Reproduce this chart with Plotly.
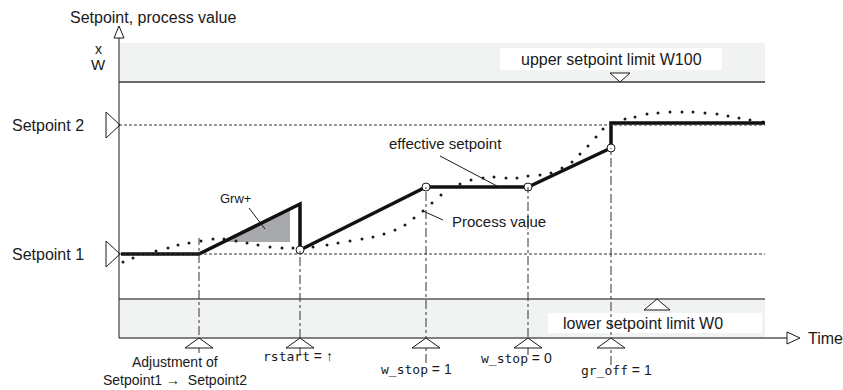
import plotly.graph_objects as go

# ---- diagram data (time units along x, value units along y) ----
SP1 = 136          # Setpoint 1 level
SP2 = 265          # Setpoint 2 level
W100 = 308         # upper setpoint limit
W100_TOP = 347
W0 = 91            # lower setpoint limit
BASE = 52          # time axis
T0, T_END = 119, 765

# effective setpoint path
eff_t = [121, 199, 300, 300, 426, 528, 611, 611, 765]
eff_v = [136, 136, 186, 140, 203, 203, 242, 267, 267]

# switching points on the effective setpoint
knot_t = [300, 426, 528, 611]
knot_v = [140, 203, 203, 242]

# process value samples
pv_t = [123, 133, 156, 168, 178, 189, 201, 213, 224, 236, 247, 258, 270, 282, 293,
        313, 327, 338, 350, 362, 373, 384, 395, 405, 414, 423, 432, 441, 460, 471,
        483, 494, 506, 517, 528, 540, 551, 562, 572, 580, 588, 596, 603, 625, 635,
        647, 658, 670, 682, 693, 705, 717, 728, 739, 750, 763]
pv_v = [128, 132, 139, 142, 145, 147, 149, 151, 151, 149, 147, 145, 143, 142, 142,
        143, 145, 147, 149, 151, 153, 156, 160, 165, 172, 179, 187, 195, 206, 210,
        212, 213, 212, 212, 214, 215, 217, 222, 228, 236, 244, 253, 261, 271, 273,
        276, 277, 278, 278, 278, 277, 276, 274, 272, 270, 268]

# control events along the time axis
ev_t = [199, 300, 426, 528, 611]
ev_top = [152, 140, 203, 203, 242]
ev_bottom = [37, 34, 27, 35, 25]

MONO = "DejaVu Sans Mono"
def mono(s):
    return f'<span style="font-family:{MONO};font-size:13px">{s}</span>'

ev_labels = [
    (175, 28, "Adjustment of"),
    (175, 10, "Setpoint1 \u2192  Setpoint2"),
    (298, 34, mono("rstart") + " = \u2191"),
    (416, 21, mono("w_stop") + " = 1"),
    (516, 32, mono("w_stop") + " = 0"),
    (616, 20, mono("gr_off") + " = 1"),
]

# ramp limit triangle Grw+
grw_t = [224, 290, 290]
grw_v = [148, 148, 180]

FONT = "Liberation Sans, Arial, sans-serif"
INK = "#1a1a1a"
BAND = "#f1f2f2"

fig = go.Figure()
shapes = []

# limit bands
shapes.append(dict(type="rect", x0=T0, x1=T_END, y0=W100, y1=W100_TOP,
                   fillcolor=BAND, line_width=0, layer="below"))
shapes.append(dict(type="rect", x0=T0, x1=T_END, y0=BASE, y1=W0,
                   fillcolor=BAND, line_width=0, layer="below"))
shapes.append(dict(type="line", x0=T0, x1=T_END, y0=W100, y1=W100,
                   line=dict(color="#3a3a3a", width=1.5)))
shapes.append(dict(type="line", x0=T0, x1=T_END, y0=W0, y1=W0,
                   line=dict(color="#808080", width=2)))
shapes.append(dict(type="line", x0=T0, x1=787, y0=BASE, y1=BASE,
                   line=dict(color="#808080", width=2)))

# label boxes inside the bands
shapes.append(dict(type="rect", x0=500, x1=722, y0=320, y1=342,
                   fillcolor="white", line_width=0))
shapes.append(dict(type="rect", x0=548, x1=762, y0=57, y1=77,
                   fillcolor="white", line_width=0))

# setpoint reference lines
for lvl in (SP1, SP2):
    shapes.append(dict(type="line", x0=T0, x1=T_END, y0=lvl, y1=lvl,
                       line=dict(color="#333333", width=1, dash="3px,2px")))

# event markers: dash-dot lines
for t, top, bot in zip(ev_t, ev_top, ev_bottom):
    shapes.append(dict(type="line", x0=t, x1=t, y0=bot, y1=top,
                       line=dict(color="#333333", width=1, dash="dashdot")))

def tri(points, fill="white"):
    d = "M " + " L ".join(f"{x},{y}" for x, y in points) + " Z"
    return dict(type="path", path=d, fillcolor=fill,
                line=dict(color=INK, width=1))

# event triangles on the time axis
for t in ev_t:
    shapes.append(tri([(t, BASE), (t - 14, BASE - 10), (t + 14, BASE - 10)]))

# setpoint triangles on the value axis
for lvl in (SP1, SP2):
    shapes.append(tri([(120, lvl), (106, lvl + 13), (106, lvl - 13)]))

# limit triangles
shapes.append(tri([(620, W100), (610, W100 + 9), (630, W100 + 9)]))
shapes.append(tri([(657, W0), (644, W0 - 11), (670, W0 - 11)]))

# axes with open arrow heads
shapes.append(dict(type="line", x0=T0, x1=T0, y0=BASE, y1=352,
                   line=dict(color=INK, width=1)))
shapes.append(tri([(T0, 364), (T0 - 5, 352), (T0 + 5, 352)]))
shapes.append(tri([(800, BASE), (787, BASE + 6), (787, BASE - 6)]))

# leader lines
for (x0, y0, x1, y1) in [(249, 182, 265, 161), (440, 234, 497, 204), (423, 179, 443, 170)]:
    shapes.append(dict(type="line", x0=x0, x1=x1, y0=y0, y1=y1,
                       line=dict(color=INK, width=1)))

# Grw+ wedge
fig.add_trace(go.Scatter(x=grw_t + [grw_t[0]], y=grw_v + [grw_v[0]], mode="lines",
                         fill="toself", fillcolor="#a7a9ac", line=dict(width=0),
                         hoverinfo="skip"))

# process value
fig.add_trace(go.Scatter(x=pv_t, y=pv_v, mode="markers",
                         marker=dict(size=3, color=INK), hoverinfo="skip"))

# effective setpoint
fig.add_trace(go.Scatter(x=eff_t, y=eff_v, mode="lines",
                         line=dict(color="#111111", width=3.5), hoverinfo="skip"))
fig.add_trace(go.Scatter(x=knot_t, y=knot_v, mode="markers",
                         marker=dict(size=8, color="white",
                                     line=dict(color=INK, width=1)),
                         hoverinfo="skip"))

ann = []
def label(x, y, text, size=16, xanchor="center"):
    ann.append(dict(x=x, y=y, text=text, showarrow=False, xanchor=xanchor,
                    yanchor="middle", font=dict(family=FONT, size=size, color=INK)))

label(68, 373, "Setpoint, process value", 16, xanchor="left")
label(98, 341, "x", 14)
label(98, 326, "W", 15)
label(10, SP2, "Setpoint 2", xanchor="left")
label(10, SP1, "Setpoint 1", xanchor="left")
label(611, 331, "upper setpoint limit W100")
label(643, 67, "lower setpoint limit W0")
label(806, BASE, "Time", xanchor="left")
label(235, 192, "Grw+", 13)
label(445, 247, "effective setpoint", 15)
label(499, 169, "Process value", 15)
for x, y, t in ev_labels:
    label(x, y, t, 14)

fig.update_layout(
    width=843, height=390, margin=dict(l=0, r=0, t=0, b=0),
    paper_bgcolor="white", plot_bgcolor="white", showlegend=False,
    shapes=shapes, annotations=ann,
    xaxis=dict(range=[0, 843], visible=False, fixedrange=True),
    yaxis=dict(range=[0, 390], visible=False, fixedrange=True),
)

fig.write_html("out.html")
